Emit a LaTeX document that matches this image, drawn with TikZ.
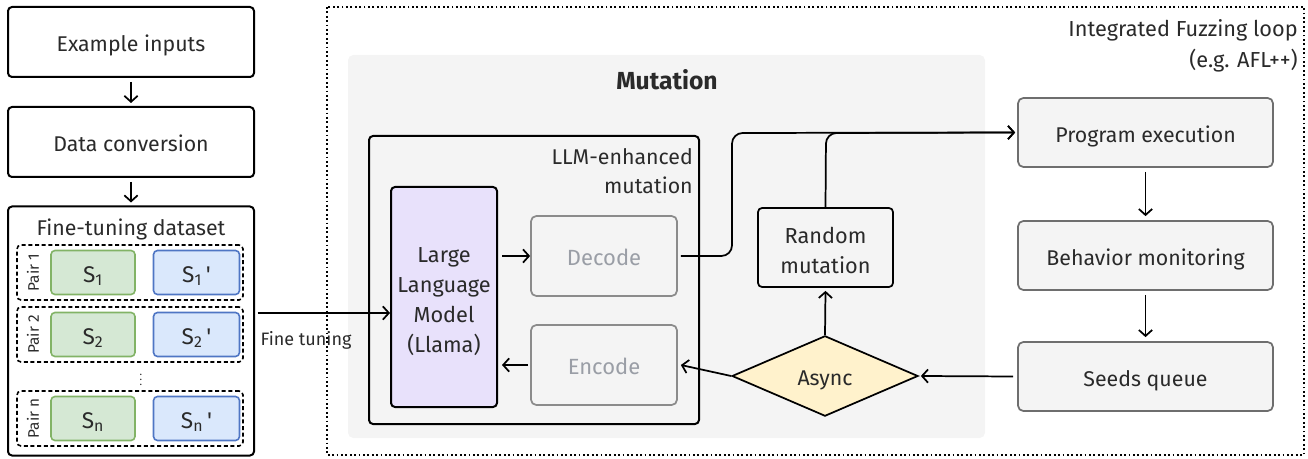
\documentclass[tikz,border=0pt]{standalone}
\usepackage{fontspec}
\setmainfont{Fira Sans}
\usetikzlibrary{arrows.meta,shapes.geometric,positioning}
\newcommand{\pxu}{*0.75pt}
\newcommand{\sq}{\textquotesingle}
\newcommand{\lo}[1]{\raisebox{-3.6pt}[\height][\depth]{\begin{tabular}{@{}c@{}}#1\end{tabular}}}
\definecolor{txt}{HTML}{2A2A2A}
\definecolor{gfill}{HTML}{F4F4F4}
\definecolor{gline}{HTML}{6E6E6E}
\definecolor{mutbg}{HTML}{F4F4F4}
\definecolor{greenf}{HTML}{D5E8D4}
\definecolor{greenl}{HTML}{82B366}
\definecolor{bluef}{HTML}{DAE8FC}
\definecolor{bluel}{HTML}{4F76C4}
\definecolor{lavf}{HTML}{E8E1FB}
\definecolor{yelf}{HTML}{FFF2CC}
\definecolor{faint}{HTML}{9A9EA6}
\tikzset{
  blackbox/.style={draw=black, line width=1.5pt, rounded corners=3pt, text=txt, align=center, inner sep=0pt},
  graybox/.style={draw=gline, fill=gfill, line width=1.3pt, rounded corners=4pt, text=txt, align=center, inner sep=0pt},
  fadebox/.style={draw=gline!80, fill=gfill, line width=1.3pt, rounded corners=4pt, text=faint, align=center, inner sep=0pt},
  pairbox/.style={draw=black, dashed, dash pattern=on 3pt off 2pt, line width=1.2pt, rounded corners=3pt, inner sep=0pt},
  sgreen/.style={draw=greenl, fill=greenf, line width=1.2pt, rounded corners=3pt, text=txt, inner sep=0pt},
  sblue/.style={draw=bluel, fill=bluef, line width=1.2pt, rounded corners=3pt, text=txt, inner sep=0pt},
  conn/.style={line width=1.3pt, -{Straight Barb[length=4.5pt,width=10pt,line width=1.3pt]}},
  lbl/.style={text=txt, inner sep=0pt},
}
\begin{document}
\begin{tikzpicture}[x=0.75pt,y=-0.75pt, font=\fontsize{16}{19}\selectfont]
\useasboundingbox (0,0) rectangle (1308,459);
% left column
\node[blackbox, minimum width=246\pxu, minimum height=70\pxu] (ex) at (131,42) {\lo{Example inputs}};
\node[blackbox, minimum width=246\pxu, minimum height=70\pxu] (dc) at (131,142) {\lo{Data conversion}};
\node[blackbox, minimum width=246\pxu, minimum height=249\pxu] (ftd) at (131,331) {};
\node[lbl, font=\fontsize{16}{19}\selectfont] (ftdt) at (131,229) {Fine-tuning dataset};
\draw[conn] ([yshift=-4\pxu]ex.south) -- ([yshift=3\pxu]dc.north);
\draw[conn] ([yshift=-4\pxu]dc.south) -- ([yshift=3\pxu]ftd.north);
% pairs
\foreach \nm/\yy/\lab/\sub in {p1/272.5/Pair 1/1, p2/334.5/Pair 2/2, pn/418.5/Pair n/n}{
  \node[pairbox, minimum width=226\pxu, minimum height=55\pxu] (\nm) at (130,\yy) {};
  \node[lbl, rotate=90, font=\fontsize{11.5}{13}\selectfont] (\nm l) at (33,\yy) {\lab};
  \node[sgreen, minimum width=84\pxu, minimum height=44\pxu, font=\fontsize{17}{19}\selectfont] (\nm a) at (93,\yy) {\lo{S\textsubscript{\sub}}};
  \node[sblue, minimum width=86\pxu, minimum height=44\pxu, font=\fontsize{17}{19}\selectfont] (\nm b) at (196.5,\yy) {\lo{S\textsubscript{\sub}\,\sq}};
}
\node[lbl, font=\fontsize{8}{9}\selectfont] (dots) at (141,376) {\vdots};
% fuzzing loop
\draw[line width=1.3pt, dotted] (327,7) rectangle (1304,455);
\node[lbl, anchor=north east, align=right, font=\fontsize{16.3}{23.5}\selectfont] (fuzzt) at (1298,19) {Integrated Fuzzing loop\\(e.g. AFL++)};
% mutation region
\fill[mutbg, rounded corners=4pt] (348,55) rectangle (985,438);
\node[lbl, font=\bfseries\fontsize{18.5}{21}\selectfont] (mutt) at (667,80) {Mutation};
\node[draw=black, line width=1.5pt, rounded corners=3pt, minimum width=330\pxu, minimum height=288\pxu, inner sep=0pt] (llmenh) at (534,280) {};
\node[lbl, anchor=north east, align=right, font=\fontsize{16}{22}\selectfont] (llmt) at (693,148) {LLM-enhanced\\mutation};
\node[blackbox, fill=lavf, minimum width=106\pxu, minimum height=220\pxu, font=\fontsize{16.3}{22.5}\selectfont] (llm) at (444,297) {\lo{Large\\Language\\Model\\(Llama)}};
\node[fadebox, minimum width=146\pxu, minimum height=80\pxu, font=\fontsize{16.5}{19}\selectfont] (dec) at (604,256) {\lo{Decode}};
\node[fadebox, minimum width=146\pxu, minimum height=80\pxu, font=\fontsize{16.5}{19}\selectfont] (enc) at (604,365) {\lo{Encode}};
\node[blackbox, line width=1.3pt, minimum width=135\pxu, minimum height=79\pxu, font=\fontsize{16.3}{22.5}\selectfont] (rm) at (825.5,247.5) {\lo{Random\\mutation}};
\node[diamond, draw=black, line width=1.3pt, fill=yelf, text=txt, inner sep=0pt, minimum width=186\pxu, minimum height=76\pxu, font=\fontsize{16}{19}\selectfont] (async) at (825,376) {\lo{Async}};
% right column
\node[graybox, minimum width=255\pxu, minimum height=69\pxu] (prog) at (1145.5,132.5) {\lo{Program execution}};
\node[graybox, minimum width=255\pxu, minimum height=69\pxu] (beh) at (1145.5,255.5) {\lo{Behavior monitoring}};
\node[graybox, minimum width=255\pxu, minimum height=69\pxu] (seeds) at (1145.5,376.5) {\lo{Seeds queue}};
% connectors
\draw[conn] ([xshift=2pt]ftd.east |- 0,313) -- (llm.west |- 0,313);
\node[lbl, font=\fontsize{13.5}{15}\selectfont] (ftl) at (306,340) {Fine tuning};
\draw[conn] ([xshift=4\pxu]llm.east |- dec.center) -- (dec.west);
\draw[conn] ([xshift=-2\pxu]enc.west) -- ([xshift=4\pxu]llm.east |- enc.center);
\draw[conn, rounded corners=8pt] ([xshift=3\pxu]dec.east) -- (732,256) -- (732,133) -- ([xshift=-2\pxu]prog.west);
\draw[conn, rounded corners=8pt] (rm.north) -- (826,133) -- ([xshift=-2\pxu]prog.west);
\draw[conn] (async.north) -- ([yshift=-3\pxu]rm.south);
\draw[conn] ([xshift=-4\pxu]seeds.west) -- ([xshift=2\pxu]async.east);
\draw[conn] (async.west) -- ([xshift=3\pxu]enc.east);
\draw[conn] ([yshift=-4\pxu]prog.south) -- ([yshift=4\pxu]beh.north);
\draw[conn] ([yshift=-4\pxu]beh.south) -- ([yshift=4\pxu]seeds.north);
\end{tikzpicture}
\end{document}
